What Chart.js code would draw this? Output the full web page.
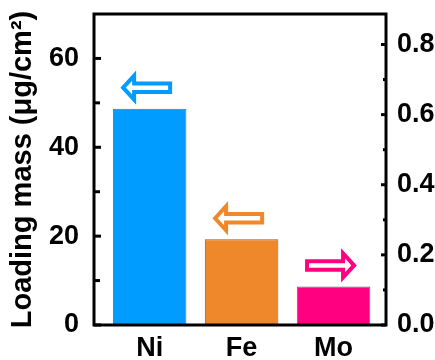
<!DOCTYPE html>
<html>
<head>
<meta charset="utf-8">
<script src="https://cdn.jsdelivr.net/npm/chart.js@4/dist/chart.umd.min.js"></script>
<style>
  html, body { margin: 0; padding: 0; background: #fff; }
  canvas { display: block; }
</style>
</head>
<body>
<canvas id="chart" width="435" height="360"></canvas>
<script>
// Loading mass per element; Ni and Fe read on the left axis, Mo on the right axis
const categories = ['Ni', 'Fe', 'Mo'];
const leftAxisValues = [48.7, 19.3, null];
const rightAxisValues = [null, null, 0.11];
const barColors = ['#009CFF', '#EF872B', '#FF0080'];

const leftTicks = [0, 20, 40, 60];
const leftMinorTicks = [10, 30, 50];
const rightTicks = [0.0, 0.2, 0.4, 0.6, 0.8];
const rightMinorTicks = [0.1, 0.3, 0.5, 0.7];

const FONT = 'Liberation Sans, Arial, Helvetica, sans-serif';

// Hollow block arrow pointing toward the axis a bar is read on
function drawArrow(ctx, cx, cy, dir, color) {
  const w = 47, h = 24, head = 11, shaft = 8.5;
  const hw = w / 2, hh = h / 2, hs = shaft / 2;
  ctx.save();
  ctx.translate(cx, cy);
  if (dir === 'right') ctx.scale(-1, 1);
  ctx.beginPath();
  ctx.moveTo(-hw, 0);
  ctx.lineTo(-hw + head, -hh);
  ctx.lineTo(-hw + head, -hs);
  ctx.lineTo(hw, -hs);
  ctx.lineTo(hw, hs);
  ctx.lineTo(-hw + head, hs);
  ctx.lineTo(-hw + head, hh);
  ctx.closePath();
  ctx.fillStyle = '#fff';
  ctx.fill();
  ctx.lineWidth = 4;
  ctx.lineJoin = 'miter';
  ctx.strokeStyle = color;
  ctx.stroke();
  ctx.restore();
}

const axisArrows = {
  id: 'axisArrows',
  afterDatasetsDraw(chart) {
    const ctx = chart.ctx;
    chart.data.datasets.forEach((ds, di) => {
      const meta = chart.getDatasetMeta(di);
      meta.data.forEach((el, i) => {
        const v = ds.data[i].y;
        if (v === null || v === undefined) return;
        const dir = ds.yAxisID === 'y' ? 'left' : 'right';
        drawArrow(ctx, el.x - 3, el.y - 21, dir, barColors[i]);
      });
    });
  }
};

// Closed frame with inward major / minor ticks on both value axes
const frame = {
  id: 'frame',
  afterDatasetsDraw(chart) {
    const { ctx, chartArea: a, scales } = chart;
    ctx.save();
    ctx.strokeStyle = '#000';
    ctx.lineCap = 'butt';
    const tick = (scale, vals, x, len, lw) => {
      ctx.lineWidth = lw;
      vals.forEach(v => {
        const y = scale.getPixelForValue(v);
        ctx.beginPath();
        ctx.moveTo(x, y);
        ctx.lineTo(x + len, y);
        ctx.stroke();
      });
    };
    tick(scales.y, leftTicks, a.left, 7, 3);
    tick(scales.y, leftMinorTicks, a.left, 6, 3);
    tick(scales.y1, rightTicks, a.right, -5, 3);
    tick(scales.y1, rightMinorTicks, a.right, -3, 3);
    ctx.lineWidth = 3;
    ctx.strokeRect(a.left, a.top, a.right - a.left, a.bottom - a.top);
    ctx.restore();
  }
};

const tickFont = { family: FONT, size: 27, weight: 'bold' };

// Fixed box sizes so the plot frame sits at a known place
const fixVertical = w => s => { s.width = w; s.paddingTop = 0; s.paddingBottom = 0; };

new Chart(document.getElementById('chart'), {
  type: 'bar',
  data: {
    datasets: [
      {
        yAxisID: 'y',
        data: categories.map((c, i) => ({ x: i + 1, y: leftAxisValues[i] })),
        backgroundColor: barColors,
        borderColor: '#666',
        borderWidth: 1,
        grouped: false,
        barPercentage: 0.8,
        categoryPercentage: 1
      },
      {
        yAxisID: 'y1',
        data: categories.map((c, i) => ({ x: i + 1, y: rightAxisValues[i] })),
        backgroundColor: barColors,
        borderColor: '#666',
        borderWidth: 1,
        grouped: false,
        barPercentage: 0.8,
        categoryPercentage: 1
      }
    ]
  },
  options: {
    responsive: false,
    devicePixelRatio: 1,
    animation: false,
    layout: { padding: { top: 14, left: 0, right: 0, bottom: 0 } },
    plugins: { legend: { display: false }, tooltip: { enabled: false } },
    scales: {
      x: {
        type: 'linear',
        offset: false,
        min: 0.395,
        max: 3.57,
        grid: { display: false, offset: false },
        border: { display: false },
        afterBuildTicks: s => { s.ticks = categories.map((c, i) => ({ value: i + 1 })); },
        afterFit: s => { s.height = 35; s.paddingLeft = 0; s.paddingRight = 0; },
        ticks: {
          font: tickFont,
          color: '#000',
          padding: -1,
          maxRotation: 0,
          callback: v => categories[v - 1]
        }
      },
      y: {
        position: 'left',
        min: 0,
        max: 70,
        grid: { display: false },
        border: { display: false },
        afterBuildTicks: s => { s.ticks = leftTicks.map(v => ({ value: v })); },
        afterFit: fixVertical(94),
        ticks: { font: tickFont, color: '#000', padding: 7 },
        title: {
          display: true,
          text: 'Loading mass (μg/cm²)',
          color: '#000',
          font: { family: FONT, size: 29, weight: 'bold' },
          padding: { top: 6, bottom: 0 }
        }
      },
      y1: {
        position: 'right',
        min: 0,
        max: 0.887,
        grid: { display: false },
        border: { display: false },
        afterBuildTicks: s => { s.ticks = rightTicks.map(v => ({ value: v })); },
        afterFit: fixVertical(49),
        ticks: {
          font: tickFont,
          color: '#000',
          padding: 3,
          callback: v => Number(v).toFixed(1)
        }
      }
    }
  },
  plugins: [axisArrows, frame]
});
</script>
</body>
</html>
